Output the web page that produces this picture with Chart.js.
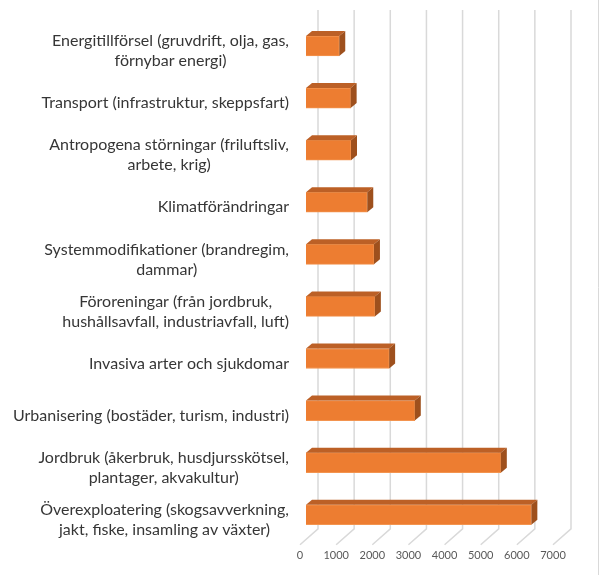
<!DOCTYPE html>
<html>
<head>
<meta charset="utf-8">
<script src="https://cdn.jsdelivr.net/npm/chart.js@4.4.0/dist/chart.umd.min.js"></script>
<style>
  html, body { margin: 0; padding: 0; background: #fff; }
  #wrap { width: 600px; height: 575px; position: relative; }
</style>
</head>
<body>
<div id="wrap"><canvas id="chart"></canvas></div>
<script>
// Kategorier (uppifrån och ned) och värden
const categories = [
    ['Energitillförsel (gruvdrift, olja, gas,', 'förnybar energi)'],
    ['Transport (infrastruktur, skeppsfart)'],
    ['Antropogena störningar (friluftsliv,', 'arbete, krig)'],
    ['Klimatförändringar'],
    ['Systemmodifikationer (brandregim,', 'dammar)'],
    ['Föroreningar (från jordbruk,', 'hushållsavfall, industriavfall, luft)'],
    ['Invasiva arter och sjukdomar'],
    ['Urbanisering (bostäder, turism, industri)'],
    ['Jordbruk (åkerbruk, husdjursskötsel,', 'plantager, akvakultur)'],
    ['Överexploatering (skogsavverkning,', 'jakt, fiske, insamling av växter)']
];
const values = [920, 1235, 1245, 1695, 1880, 1905, 2300, 3010, 5390, 6235];
const xTicks = [0, 1000, 2000, 3000, 4000, 5000, 6000, 7000];

// 3D-effekt: bakvägg med rutnät, samt topp- och sidoytor på staplarna
const bar3d = {
    id: 'bar3d',
    beforeDatasetsDraw(chart) {
        const ctx = chart.ctx;
        const xs = chart.scales.x;
        const area = chart.chartArea;
        ctx.save();
        ctx.strokeStyle = '#D9D9D9';
        ctx.lineWidth = 1.5;
        xTicks.forEach(v => {
            const px = xs.getPixelForValue(v);
            ctx.beginPath();
            ctx.moveTo(px + 12, area.top - 10);
            ctx.lineTo(px + 12, area.bottom - 12);
            ctx.lineTo(px - 6, area.bottom + 4);
            ctx.stroke();
        });
        ctx.restore();
    },
    afterDatasetsDraw(chart) {
        const ctx = chart.ctx;
        const dx = 6, dy = 5;
        ctx.save();
        chart.getDatasetMeta(0).data.forEach(bar => {
            const p = bar.getProps(['x', 'y', 'base', 'height'], true);
            const top = p.y - p.height / 2;
            const bottom = p.y + p.height / 2;
            ctx.fillStyle = '#BC6026';
            ctx.beginPath();
            ctx.moveTo(p.base, top);
            ctx.lineTo(p.base + dx, top - dy);
            ctx.lineTo(p.x + dx, top - dy);
            ctx.lineTo(p.x, top);
            ctx.closePath();
            ctx.fill();
            ctx.fillStyle = '#9E501D';
            ctx.beginPath();
            ctx.moveTo(p.x, top);
            ctx.lineTo(p.x + dx, top - dy);
            ctx.lineTo(p.x + dx, bottom - dy);
            ctx.lineTo(p.x, bottom);
            ctx.closePath();
            ctx.fill();
        });
        ctx.restore();
    },
    afterDraw(chart) {
        // kategoritexter: högerjusterade block, raderna centrerade inom blocket
        const ctx = chart.ctx;
        const ys = chart.scales.y;
        const right = 289;
        const lineH = 20;
        ctx.save();
        ctx.font = '16px Lato';
        ctx.fillStyle = '#363636';
        ctx.textAlign = 'center';
        ctx.textBaseline = 'middle';
        categories.forEach((lines, i) => {
            const widest = Math.max(...lines.map(l => ctx.measureText(l).width));
            const cx = right - widest / 2;
            const cy = ys.getPixelForValue(i) + 5;
            lines.forEach((l, j) => {
                ctx.fillText(l, cx, cy + (j - (lines.length - 1) / 2) * lineH);
            });
        });
        // ram till höger
        ctx.strokeStyle = '#D9D9D9';
        ctx.lineWidth = 1;
        ctx.beginPath();
        ctx.moveTo(598.5, 0);
        ctx.lineTo(598.5, 575);
        ctx.stroke();
        ctx.restore();
    }
};

const ctx = document.getElementById('chart').getContext('2d');
new Chart(ctx, {
    type: 'bar',
    data: {
        labels: categories,
        datasets: [{
            data: values,
            backgroundColor: '#ED7D31',
            borderColor: '#F3944F',
            borderWidth: 1,
            barThickness: 20
        }]
    },
    options: {
        indexAxis: 'y',
        responsive: true,
        maintainAspectRatio: false,
        animation: false,
        layout: {
            padding: { top: 20, right: 41, bottom: 13, left: 0 }
        },
        plugins: {
            legend: { display: false },
            tooltip: { enabled: false }
        },
        scales: {
            x: {
                min: 0,
                max: 7000,
                afterBuildTicks: scale => {
                    scale.ticks = xTicks.map(v => ({ value: v }));
                },
                grid: { display: false },
                border: { display: false },
                ticks: {
                    color: '#595959',
                    font: { family: 'Lato', size: 11 },
                    padding: 0,
                    labelOffset: -6,
                    maxRotation: 0,
                    callback: v => String(v)
                }
            },
            y: {
                afterFit: scale => { scale.width = 306; },
                grid: { display: false },
                border: { display: false },
                ticks: { display: false }
            }
        }
    },
    plugins: [bar3d]
});
</script>
</body>
</html>
